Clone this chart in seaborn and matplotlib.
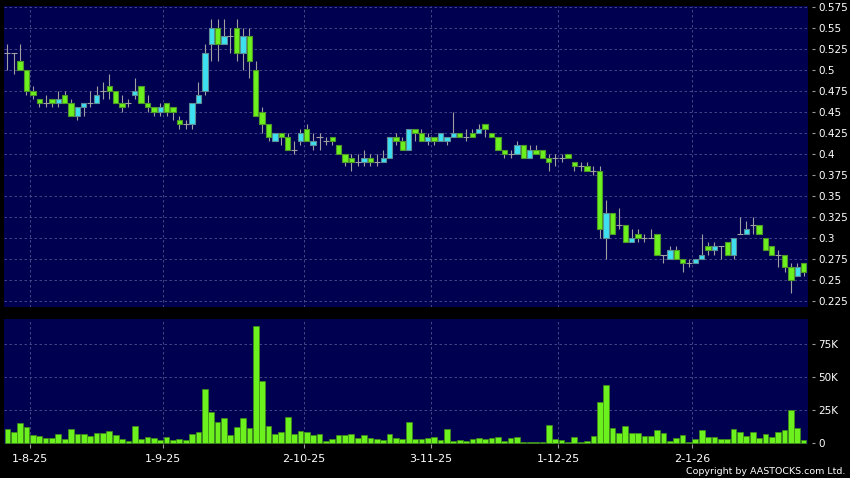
import matplotlib
matplotlib.use("Agg")
import numpy as np
import pandas as pd
import matplotlib.pyplot as plt
from matplotlib.ticker import FuncFormatter
import seaborn as sns

# daily prices, one entry per trading day
opens = [.52, .52, .51, .50, .475, .465, .46, .465, .46, .47,
         .46, .445, .455, .46, .46, .475, .48, .475, .46, .46,
         .47, .48, .46, .455, .45, .46, .455, .44, .435, .435,
         .46, .475, .53, .55, .53, .54, .55, .52, .54, .50,
         .45, .435, .415, .425, .42, .405, .415, .43, .41, .42,
         .415, .42, .41, .40, .395, .39, .39, .395, .39, .39,
         .395, .42, .415, .405, .43, .425, .415, .42, .415, .415,
         .42, .425, .42, .425, .425, .435, .425, .42, .405, .40,
         .40, .41, .395, .405, .405, .395, .395, .395, .40, .39,
         .385, .385, .38, .38, .30, .33, .315, .315, .295, .305,
         .30, .30, .305, .28, .275, .285, .275, .27, .27, .275,
         .29, .285, .29, .295, .28, .305, .305, .315, .315, .30,
         .29, .28, .28, .265, .255, .27]
highs = [.53, .52, .53, .50, .48, .465, .47, .465, .475, .475,
         .465, .455, .46, .475, .48, .485, .495, .475, .47, .465,
         .49, .48, .47, .455, .46, .46, .455, .445, .44, .46,
         .485, .53, .56, .56, .56, .55, .56, .55, .55, .51,
         .455, .435, .425, .425, .425, .415, .43, .435, .425, .425,
         .42, .42, .41, .40, .40, .40, .405, .40, .40, .405,
         .42, .425, .42, .43, .43, .43, .425, .42, .425, .42,
         .45, .425, .43, .43, .435, .435, .425, .42, .405, .405,
         .415, .41, .41, .41, .405, .40, .40, .40, .40, .39,
         .39, .39, .385, .385, .345, .33, .335, .315, .31, .31,
         .305, .31, .305, .28, .29, .29, .275, .275, .275, .305,
         .295, .295, .29, .295, .30, .325, .32, .325, .315, .30,
         .29, .285, .28, .27, .27, .27]
lows = [.50, .495, .50, .47, .465, .455, .455, .455, .455, .46,
        .445, .44, .445, .455, .46, .465, .465, .46, .45, .455,
        .465, .46, .45, .445, .445, .445, .44, .43, .43, .43,
        .46, .47, .51, .51, .53, .52, .51, .50, .49, .445,
        .425, .415, .415, .41, .405, .40, .41, .415, .405, .405,
        .41, .41, .40, .385, .38, .385, .385, .385, .385, .39,
        .395, .41, .405, .405, .415, .415, .41, .41, .415, .41,
        .42, .42, .415, .42, .425, .42, .42, .405, .395, .395,
        .40, .395, .395, .40, .395, .38, .385, .39, .395, .38,
        .38, .38, .375, .30, .275, .305, .31, .295, .295, .295,
        .295, .30, .28, .27, .275, .275, .26, .265, .27, .275,
        .28, .28, .275, .28, .275, .305, .305, .305, .305, .285,
        .28, .265, .26, .235, .255, .255]
closes = [.52, .52, .50, .475, .47, .46, .46, .46, .465, .46,
          .445, .455, .46, .46, .47, .475, .475, .46, .455, .46,
          .475, .46, .455, .45, .455, .45, .45, .435, .435, .46,
          .47, .52, .55, .53, .54, .54, .52, .54, .51, .445,
          .435, .42, .425, .42, .405, .405, .425, .415, .415, .42,
          .415, .415, .40, .39, .39, .39, .395, .39, .39, .395,
          .42, .415, .405, .43, .425, .415, .42, .415, .425, .42,
          .425, .42, .42, .42, .43, .43, .42, .405, .40, .40,
          .41, .395, .405, .40, .395, .39, .395, .395, .395, .385,
          .385, .38, .38, .31, .33, .305, .315, .295, .30, .30,
          .30, .30, .28, .28, .285, .275, .27, .27, .275, .28,
          .285, .29, .29, .28, .30, .305, .31, .315, .305, .285,
          .28, .28, .265, .25, .265, .26]
volumes = [10800, 8800, 15000, 12000, 6000, 5300, 3800, 4000, 7000, 3300,
           11000, 7000, 6800, 5500, 7500, 8000, 9500, 6000, 3300, 1800,
           13300, 3300, 5000, 4000, 2300, 5000, 2500, 3500, 2500, 6800,
           8500, 41000, 23500, 16000, 19000, 6000, 12300, 19000, 11300, 89000,
           47000, 13000, 7000, 8300, 20000, 6800, 9500, 8500, 6500, 7300,
           1800, 3300, 6000, 6300, 6800, 4000, 6300, 4000, 3500, 2300,
           7000, 4300, 3300, 15800, 3000, 3300, 3800, 5000, 2800, 10500,
           1800, 2300, 1800, 3500, 4300, 3000, 4000, 4500, 1500, 4300,
           4800, 1000, 800, 800, 800, 14000, 3000, 2800, 1000, 4500,
           1300, 1800, 5800, 31000, 44000, 11500, 7500, 12800, 7800, 8000,
           5800, 5800, 10000, 7800, 1800, 4000, 6300, 1300, 3000, 9800,
           4800, 5000, 3300, 3500, 11000, 8800, 5800, 8300, 4000, 7000,
           4500, 8500, 9800, 25000, 11800, 2300]

date_labels = ['1-8-25', '1-9-25', '2-10-25', '3-11-25', '1-12-25', '2-1-26']
date_index = [3, 24, 46, 66, 86, 107]
price_ticks = [0.225, 0.25, 0.275, 0.3, 0.325, 0.35, 0.375, 0.4,
               0.425, 0.45, 0.475, 0.5, 0.525, 0.55, 0.575]
volume_ticks = [0, 25000, 50000, 75000]

UP = '#3ce0f0'
DOWN = '#6cf01e'
WICK = '#a0a0a0'
PANEL = '#000050'
GRID = '#50508f'

sns.set_theme(style='dark', rc={'axes.facecolor': PANEL, 'figure.facecolor': 'black',
                                'savefig.facecolor': 'black', 'axes.grid': False})
plt.rcParams['font.family'] = ['DejaVu Sans']

df = pd.DataFrame({'open': opens, 'high': highs, 'low': lows,
                   'close': closes, 'volume': volumes})
df['day'] = np.arange(len(df))
up = df[df.close > df.open]
down = df[df.close < df.open]
flat = df[df.close == df.open]

W, H = 850, 478
fig = plt.figure(figsize=(W / 100, H / 100), dpi=100)
ax = fig.add_axes([4 / W, 1 - 306.7 / H, 803.7 / W, 301.2 / H])
axv = fig.add_axes([4 / W, 1 - 444.3 / H, 803.7 / W, 125 / H])

grid_x = [d + 0.5 for d in date_index]

# candles
ax.vlines(df.day, df.low, df.high, color=WICK, lw=0.8, zorder=2)
ax.bar(up.day, up.close - up.open, bottom=up.open, width=0.84,
       color=UP, edgecolor='#5c8c96', linewidth=0.8, zorder=3)
ax.bar(down.day, down.open - down.close, bottom=down.close, width=0.84,
       color=DOWN, edgecolor='#4e9a28', linewidth=0.8, zorder=3)
ax.hlines(flat.open, flat.day - 0.48, flat.day + 0.48, color=WICK, lw=0.8, zorder=3)

# volume
sns.barplot(data=df, x='day', y='volume', ax=axv, native_scale=True, width=0.9,
            color=DOWN, saturation=1, edgecolor='#3f8f14', linewidth=0.5,
            errorbar=None, zorder=3)

for a in (ax, axv):
    a.set_xlim(-0.53, 125.64)
    a.set_xlabel('')
    a.set_ylabel('')
    for s in a.spines.values():
        s.set_visible(False)
    a.yaxis.tick_right()
    a.spines['right'].set_position(('outward', 3))
    a.tick_params(axis='y', length=2.5, width=0.8, color='#9a9a9a',
                  labelcolor='white', labelsize=7.5, pad=2)
    for gx in grid_x:
        a.axvline(gx, color=GRID, lw=0.6, ls=(0, (3, 3)), zorder=1)

ax.set_ylim(0.2182, 0.5762)
ax.set_yticks(price_ticks)
ax.set_yticklabels([f'{p:g}' for p in price_ticks])
for p in price_ticks:
    ax.axhline(p, color=GRID, lw=0.6, ls=(0, (3, 3)), zorder=1)
ax.set_xticks([])

axv.set_ylim(-800, 93900)
axv.set_yticks(volume_ticks)
axv.yaxis.set_major_formatter(FuncFormatter(lambda v, _: '0' if v == 0 else f'{v / 1000:g}K'))
for v in volume_ticks[1:]:
    axv.axhline(v, color=GRID, lw=0.6, ls=(0, (3, 3)), zorder=1)
axv.set_xticks(grid_x)
axv.set_xticklabels(date_labels)
axv.tick_params(axis='x', bottom=True, length=3, width=0.8, color='#9a9a9a',
                labelcolor='white', labelsize=8, pad=4)

fig.text(845 / W, 1 - 471 / H, 'Copyright by AASTOCKS.com Ltd.', ha='right',
         va='center', color='white', fontsize=6.8)

fig.savefig('out.png', dpi=100)
